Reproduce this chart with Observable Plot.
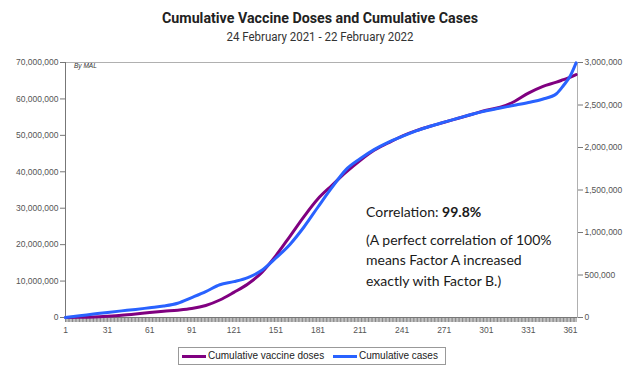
<!DOCTYPE html>
<html>
<head>
<meta charset="utf-8">
<script src="https://cdn.jsdelivr.net/npm/d3@7"></script>
<script src="https://cdn.jsdelivr.net/npm/@observablehq/plot@0.6"></script>
<style>
  body { margin: 0; background: #fff; }
  #wrap { position: relative; width: 638px; height: 378px; overflow: hidden; background: #fff; }
  .fit { position: absolute; left: 320px; white-space: nowrap; transform-origin: center; }
  #title { top: 9px; font: bold 14px Roboto, sans-serif; color: #222; line-height: 18px; }
  #subtitle { top: 29px; font: 12.5px Roboto, sans-serif; color: #333; line-height: 16px; }
  #chart { position: absolute; left: 0; top: 50px; }
  #bymal { position: absolute; left: 74px; top: 62px; font: italic 6.5px "Liberation Sans", Arial, sans-serif; color: #333; }
  .note { position: absolute; left: 366px; font: 14px Lato, sans-serif; color: #1a1a1a; white-space: nowrap; line-height: 18px; }
  #legend { position: absolute; left: 178px; top: 347px; width: 266px; height: 16px; border: 1px solid #999;
            font: 10px "Liberation Sans", Arial, sans-serif; color: #222; white-space: nowrap; }
  .sw { position: absolute; top: 7px; width: 24px; height: 3px; }
  .lt { position: absolute; top: 2px; line-height: 12px; }
</style>
</head>
<body>
<div id="wrap">
  <div id="title" class="fit">Cumulative Vaccine Doses and Cumulative Cases</div>
  <div id="subtitle" class="fit">24 February 2021 - 22 February 2022</div>
  <div id="chart"></div>
  <div id="bymal">By MAL</div>
  <div class="note" style="top:203px">Correlation: <b>99.8%</b></div>
  <div class="note" style="top:231px">(A perfect correlation of 100%</div>
  <div class="note" style="top:251px">means Factor A increased</div>
  <div class="note" style="top:272px">exactly with Factor B.)</div>
  <div id="legend">
    <span class="sw" style="left:3px;background:#800080"></span><span class="lt" style="left:29px">Cumulative vaccine doses</span>
    <span class="sw" style="left:154px;background:#2962ff"></span><span class="lt" style="left:180px">Cumulative cases</span>
  </div>
</div>
<script>
// Day number since 24 Feb 2021 (day 1)
const days = [1, 11, 21, 31, 41, 51, 61, 71, 81, 91, 101, 111, 121, 131, 141, 151, 161, 171, 181, 191,
              201, 211, 221, 231, 241, 251, 261, 271, 281, 291, 301, 311, 321, 331, 341, 351, 356, 361, 365];
// Cumulative vaccine doses (left axis)
const vaccineDoses = [0, 50000, 150000, 350000, 600000, 950000, 1350000, 1700000, 2000000, 2450000,
  3300000, 4800000, 6900000, 9200000, 12400000, 17000000, 22300000, 27700000, 32600000, 36300000,
  39900000, 43100000, 45900000, 47900000, 49800000, 51300000, 52500000, 53600000, 54700000, 55800000,
  56900000, 57700000, 59300000, 61600000, 63400000, 64600000, 65300000, 66000000, 66700000];
// Cumulative cases (right axis)
const cumulativeCases = [0, 20000, 40000, 60000, 78000, 95000, 115000, 135000, 168000, 235000,
  305000, 385000, 422000, 470000, 555000, 700000, 860000, 1065000, 1300000, 1530000,
  1740000, 1867000, 1975000, 2060000, 2130000, 2195000, 2250000, 2298000, 2345000, 2392000,
  2432000, 2465000, 2497000, 2530000, 2568000, 2632000, 2729000, 2847000, 2995000];

const leftTicks = [0, 10000000, 20000000, 30000000, 40000000, 50000000, 60000000, 70000000];
const rightTicks = [0, 500000, 1000000, 1500000, 2000000, 2500000, 3000000];
const xTickLabels = [1, 31, 61, 91, 121, 151, 181, 211, 241, 271, 301, 331, 361];

const data = days.map((d, i) => ({day: d, vaccine: vaccineDoses[i], cases: cumulativeCases[i]}));
const k = 70000000 / 3000000;
const fmt = d3.format(",");

const chart = Plot.plot({
  width: 638,
  height: 290,
  marginLeft: 65,
  marginRight: 61,
  marginTop: 12,
  marginBottom: 23,
  x: {domain: [1, 366]},
  y: {domain: [0, 70000000]},
  style: {fontFamily: "'Liberation Sans', Arial, sans-serif", fontSize: "8.5px", color: "#555", background: "transparent"},
  marks: [
    Plot.frame({stroke: "#b0b0b0"}),
    Plot.axisY({ticks: leftTicks, tickFormat: fmt, tickSize: 5, tickPadding: 2, label: null, stroke: "#777"}),
    Plot.axisY({anchor: "right", ticks: rightTicks.map(v => v * k), tickFormat: d => fmt(Math.round(d / k)),
                tickSize: 5, tickPadding: 2, label: null, stroke: "#777"}),
    Plot.axisX({ticks: d3.range(1, 366), tickSize: 5, tickFormat: () => "", label: null, stroke: "#888"}),
    Plot.axisX({ticks: xTickLabels, tickSize: 0, tickPadding: 9, tickFormat: d => d, label: null}),
    Plot.ruleX([1], {stroke: "#777"}),
    Plot.ruleY([0], {stroke: "#777"}),
    Plot.line(data, {x: "day", y: "vaccine", stroke: "#800080", strokeWidth: 3, curve: "monotone-x"}),
    Plot.line(data, {x: "day", y: d => d.cases * k, stroke: "#2962ff", strokeWidth: 3, curve: "monotone-x"})
  ]
});
document.getElementById("chart").appendChild(chart);

function fit(id, w) {
  const el = document.getElementById(id);
  const r = el.getBoundingClientRect().width;
  el.style.transform = `translateX(-50%) scaleX(${w / r})`;
}
fit("title", 316);
fit("subtitle", 187);
</script>
</body>
</html>
